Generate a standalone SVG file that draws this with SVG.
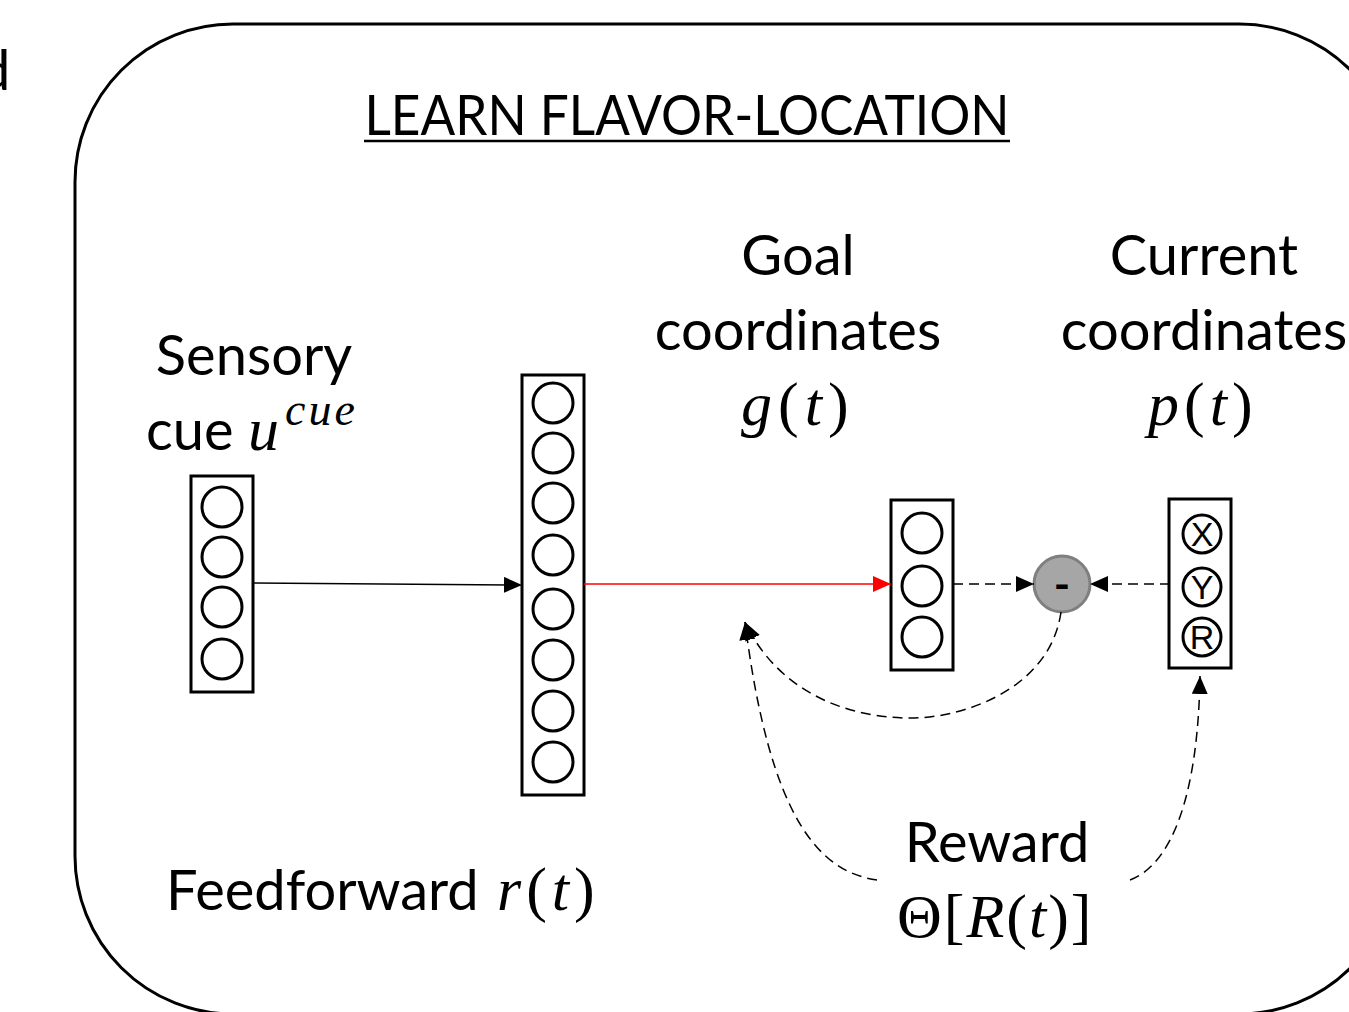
<svg xmlns="http://www.w3.org/2000/svg" width="1349" height="1012" viewBox="0 0 1349 1012">
<style>
.t{font-family:Lato,"Open Sans","Liberation Sans",sans-serif;font-size:56px;fill:#000}
.mt{font-family:"Liberation Serif","DejaVu Serif",serif;font-size:62px;fill:#000}
.m{font-family:"Liberation Serif","DejaVu Serif",serif;font-style:italic}
.u{font-family:"Liberation Serif","DejaVu Serif",serif;font-style:normal}
.box{fill:#fff;stroke:#000;stroke-width:3}
.neu{fill:#fff;stroke:#000;stroke-width:3}
.dash{fill:none;stroke:#000;stroke-width:1.5;stroke-dasharray:10 6}
.lt{font-family:"Liberation Sans",Arial,sans-serif;font-size:34px;fill:#000}
</style>
<defs>
<marker id="ah" markerUnits="userSpaceOnUse" markerWidth="20" markerHeight="18" refX="18" refY="8" orient="auto">
<path d="M0,0 L18,8 L0,16 z" fill="#000"/>
</marker>
<marker id="ahr" markerUnits="userSpaceOnUse" markerWidth="20" markerHeight="18" refX="18" refY="8" orient="auto">
<path d="M0,0 L18,8 L0,16 z" fill="#f00"/>
</marker>
</defs>
<rect width="1349" height="1012" fill="#fff"/>
<text class="t" x="-21" y="90">d</text>
<rect x="75" y="24" width="1322" height="990" rx="158" ry="158" fill="none" stroke="#000" stroke-width="3"/>
<text class="t" x="687" y="135" text-anchor="middle" textLength="645" lengthAdjust="spacingAndGlyphs">LEARN FLAVOR-LOCATION</text>
<line x1="364" y1="141" x2="1010" y2="141" stroke="#000" stroke-width="2.5"/>

<g id="sensory-label">
<text class="t" x="254" y="375" text-anchor="middle">Sensory</text>
<text class="t" x="146" y="450">cue</text>
<text class="mt" x="248" y="450"><tspan class="m">u</tspan><tspan class="m" font-size="46" dx="6" dy="-25" letter-spacing="3">cue</tspan></text>
</g>
<g id="sensory">
<rect class="box" x="191" y="476" width="62" height="216"/>
<circle class="neu" cx="222" cy="507" r="20"/>
<circle class="neu" cx="222" cy="557" r="20"/>
<circle class="neu" cx="222" cy="607" r="20"/>
<circle class="neu" cx="222" cy="659" r="20"/>
</g>
<g id="feedforward">
<rect class="box" x="522" y="375" width="62" height="420"/>
<circle class="neu" cx="553" cy="403" r="20"/>
<circle class="neu" cx="553" cy="453" r="20"/>
<circle class="neu" cx="553" cy="503" r="20"/>
<circle class="neu" cx="553" cy="555" r="20"/>
<circle class="neu" cx="553" cy="609" r="20"/>
<circle class="neu" cx="553" cy="660" r="20"/>
<circle class="neu" cx="553" cy="711" r="20"/>
<circle class="neu" cx="553" cy="762" r="20"/>
<text class="t" x="166" y="910">Feedforward</text>
<text class="mt" x="497" y="910" letter-spacing="5"><tspan class="m">r</tspan><tspan class="u">(</tspan><tspan class="m">t</tspan><tspan class="u">)</tspan></text>
</g>
<g id="goal">
<text class="t" x="798" y="275" text-anchor="middle">Goal</text>
<text class="t" x="798" y="350" text-anchor="middle">coordinates</text>
<text class="mt" x="741" y="425" letter-spacing="6"><tspan class="m">g</tspan><tspan class="u">(</tspan><tspan class="m">t</tspan><tspan class="u">)</tspan></text>
<rect class="box" x="891" y="500" width="62" height="170"/>
<circle class="neu" cx="922" cy="533" r="20"/>
<circle class="neu" cx="922" cy="586" r="20"/>
<circle class="neu" cx="922" cy="637" r="20"/>
</g>
<g id="current">
<text class="t" x="1204" y="275" text-anchor="middle">Current</text>
<text class="t" x="1204" y="350" text-anchor="middle">coordinates</text>
<text class="mt" x="1148" y="425" letter-spacing="5"><tspan class="m">p</tspan><tspan class="u">(</tspan><tspan class="m">t</tspan><tspan class="u">)</tspan></text>
<rect class="box" x="1169" y="499" width="62" height="169"/>
<circle class="neu" cx="1202" cy="534" r="19"/>
<circle class="neu" cx="1202" cy="587" r="19"/>
<circle class="neu" cx="1202" cy="637" r="19"/>
<text class="lt" x="1202" y="546" text-anchor="middle">X</text>
<text class="lt" x="1202" y="599" text-anchor="middle">Y</text>
<text class="lt" x="1202" y="649" text-anchor="middle">R</text>
</g>
<g id="subtract">
<circle cx="1062" cy="584" r="28" fill="#a6a6a6" stroke="#7f7f7f" stroke-width="3"/>
<text x="1062" y="600" text-anchor="middle" font-family="Lato,'Liberation Sans',sans-serif" font-weight="bold" font-size="44" fill="#000">-</text>
</g>
<g id="reward">
<text class="t" x="997" y="862" text-anchor="middle">Reward</text>
<text class="mt" x="897" y="937" letter-spacing="2"><tspan class="u">Θ[</tspan><tspan class="m">R</tspan><tspan class="u">(</tspan><tspan class="m">t</tspan><tspan class="u">)]</tspan></text>
</g>
<g id="connectors">
<line x1="253" y1="583" x2="522" y2="585" stroke="#000" stroke-width="1.5" marker-end="url(#ah)"/>
<line x1="584" y1="584" x2="891" y2="584" stroke="#f00" stroke-width="1.5" marker-end="url(#ahr)"/>
<line class="dash" x1="953" y1="584" x2="1034" y2="584" marker-end="url(#ah)"/>
<line class="dash" x1="1170" y1="584" x2="1090" y2="584" marker-end="url(#ah)"/>
<path class="dash" d="M1061,612 C1050,690 960,720 905,718 C830,716 772,680 745,622" marker-end="url(#ah)"/>
<path class="dash" d="M877,880 C820,872 770,820 745,622" marker-end="url(#ah)"/>
<path class="dash" d="M1130,880 C1170,865 1198,800 1200,676" marker-end="url(#ah)"/>
</g>
</svg>
